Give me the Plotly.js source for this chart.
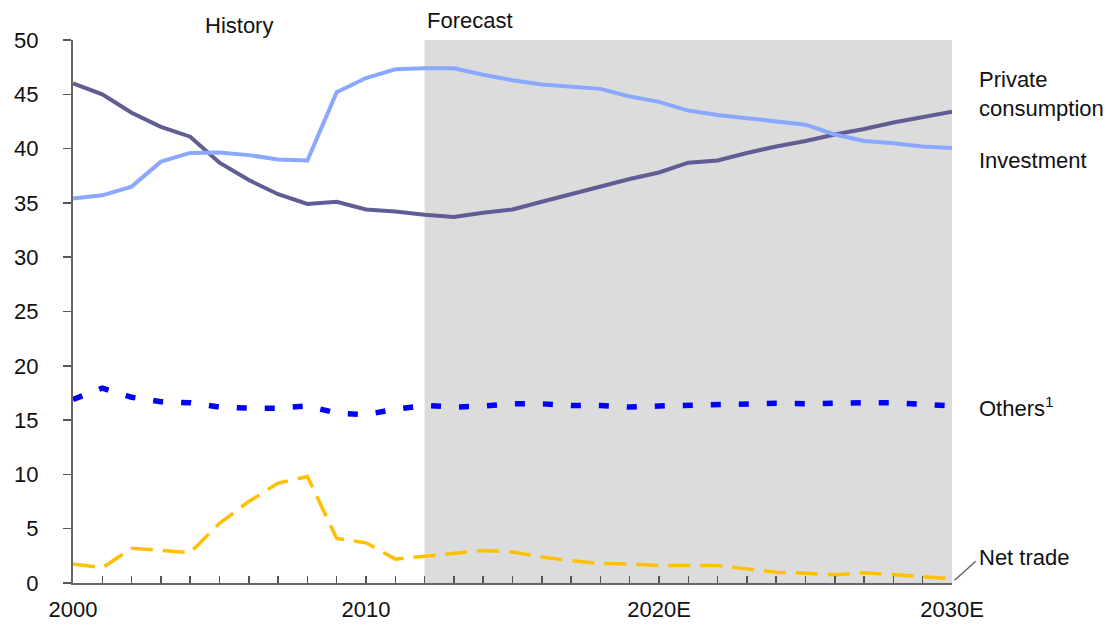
<!DOCTYPE html>
<html>
<head>
<meta charset="utf-8">
<script src="https://cdn.plot.ly/plotly-3.0.1.min.js"></script>
<style>
  html, body { margin: 0; padding: 0; background: #fff; }
  #chart { width: 1111px; height: 626px; }
</style>
</head>
<body>
<div id="chart"></div>
<script>
// Share of GDP by component, % (history to 2012, forecast after)
const years = [];
for (let y = 2000; y <= 2030; y++) years.push(y);

const privateConsumption = [46.0, 45.0, 43.3, 42.0, 41.1, 38.7, 37.1, 35.8, 34.9, 35.1,
  34.4, 34.2, 33.9, 33.7, 34.1, 34.4, 35.1, 35.8, 36.5, 37.2,
  37.8, 38.7, 38.9, 39.6, 40.2, 40.7, 41.3, 41.8, 42.4, 42.9, 43.4];

const investment = [35.4, 35.7, 36.5, 38.8, 39.6, 39.65, 39.4, 39.0, 38.9, 45.2,
  46.5, 47.3, 47.4, 47.4, 46.8, 46.3, 45.9, 45.7, 45.5, 44.8,
  44.3, 43.5, 43.1, 42.8, 42.5, 42.2, 41.3, 40.7, 40.5, 40.2, 40.05];

const others = [16.9, 17.95, 17.1, 16.7, 16.6, 16.2, 16.1, 16.1, 16.3, 15.65,
  15.5, 16.0, 16.35, 16.2, 16.3, 16.5, 16.5, 16.35, 16.35, 16.2,
  16.3, 16.35, 16.5, 16.5, 16.55, 16.5, 16.6, 16.6, 16.6, 16.45, 16.3];

const netTrade = [1.75, 1.4, 3.2, 3.0, 2.8, 5.5, 7.5, 9.2, 9.8, 4.1,
  3.7, 2.2, 2.45, 2.7, 3.0, 2.85, 2.4, 2.05, 1.8, 1.75,
  1.6, 1.6, 1.6, 1.3, 1.0, 0.9, 0.75, 0.95, 0.75, 0.6, 0.4];

const forecastStart = 2012;
const forecastEnd = 2030;

const xTickVals = [2000, 2010, 2020, 2030];
const xTickText = ['2000', '2010', '2020E', '2030E'];
const yTickVals = [0, 5, 10, 15, 20, 25, 30, 35, 40, 45, 50];

const seriesLabels = ['Private<br>consumption', 'Investment', 'Others<sup>1</sup>', 'Net trade'];
const phaseLabels = ['History', 'Forecast'];

const FONT = 'Liberation Sans, Arial, sans-serif';
const TXT = { family: FONT, size: 22, color: '#111' };

const traces = [
  { x: years, y: privateConsumption, mode: 'lines', line: { color: '#5f5d93', width: 4 } },
  { x: years, y: investment, mode: 'lines', line: { color: '#8aa8ff', width: 4 } },
  { x: years, y: others, mode: 'lines', line: { color: '#0000ff', width: 5.5, dash: '10px,18px' } },
  { x: years, y: netTrade, mode: 'lines', line: { color: '#ffc000', width: 3.5, dash: '22px,10px' } }
];

const layout = {
  width: 1111, height: 626,
  margin: { l: 73, r: 159, t: 40, b: 43 },
  paper_bgcolor: '#fff', plot_bgcolor: 'rgba(0,0,0,0)',
  showlegend: false,
  font: TXT,
  xaxis: {
    range: [2000, 2030], tickmode: 'array', tickvals: xTickVals, ticktext: xTickText,
    ticks: 'inside', ticklen: 7, tickwidth: 1.5, tickcolor: '#555',
    minor: { dtick: 1, ticks: 'inside', ticklen: 7, tickwidth: 1.5, tickcolor: '#555', showgrid: false },
    ticklabelstandoff: 6,
    showline: true, linecolor: '#666', linewidth: 2, showgrid: false, zeroline: false,
    tickfont: TXT, tickangle: 0, automargin: false
  },
  yaxis: {
    range: [0, 50], tickmode: 'array', tickvals: yTickVals,
    ticks: 'outside', ticklen: 8, tickwidth: 1.5, tickcolor: '#555',
    ticklabelstandoff: 20,
    showline: true, linecolor: '#666', linewidth: 2, showgrid: false, zeroline: false,
    tickfont: TXT, automargin: false
  },
  shapes: [
    { type: 'rect', xref: 'x', yref: 'y', x0: forecastStart, x1: forecastEnd, y0: 0, y1: 50,
      fillcolor: '#dcdcdc', line: { width: 0 }, layer: 'below' },
    { type: 'line', xref: 'paper', yref: 'paper', x0: 1.003, y0: 0.005, x1: 1.027, y1: 0.04,
      line: { color: '#666', width: 1.5 } }
  ],
  annotations: [
    { xref: 'x', yref: 'paper', x: 2005.66, y: 1.026, text: phaseLabels[0], showarrow: false,
      xanchor: 'center', yanchor: 'middle', font: TXT },
    { xref: 'x', yref: 'paper', x: 2013.55, y: 1.036, text: phaseLabels[1], showarrow: false,
      xanchor: 'center', yanchor: 'middle', font: TXT },
    { xref: 'paper', yref: 'y', x: 1.028, y: 45.0, text: seriesLabels[0], showarrow: false,
      xanchor: 'left', yanchor: 'middle', align: 'left', font: TXT },
    { xref: 'paper', yref: 'y', x: 1.028, y: 38.9, text: seriesLabels[1], showarrow: false,
      xanchor: 'left', yanchor: 'middle', align: 'left', font: TXT },
    { xref: 'paper', yref: 'y', x: 1.028, y: 16.25, text: seriesLabels[2], showarrow: false,
      xanchor: 'left', yanchor: 'middle', align: 'left', font: TXT },
    { xref: 'paper', yref: 'y', x: 1.028, y: 2.33, text: seriesLabels[3], showarrow: false,
      xanchor: 'left', yanchor: 'middle', align: 'left', font: TXT }
  ]
};

Plotly.newPlot('chart', traces, layout, { displayModeBar: false, staticPlot: true });
</script>
</body>
</html>
